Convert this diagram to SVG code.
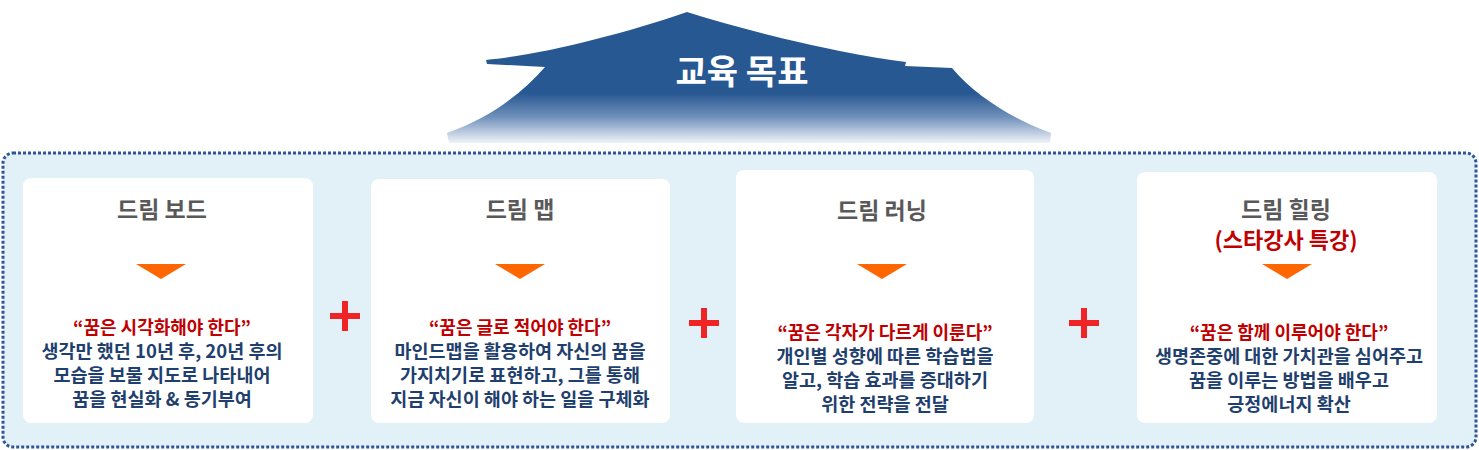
<svg xmlns="http://www.w3.org/2000/svg" width="1479" height="450" viewBox="0 0 1479 450">
<defs>
<linearGradient id="rg" x1="0" y1="0" x2="0" y2="1">
<stop offset="0" stop-color="#285892"/><stop offset="0.62" stop-color="#285892"/><stop offset="0.8" stop-color="#6f90bb"/><stop offset="1" stop-color="#f0f3f8"/>
</linearGradient>
<style>
text{font-family:"Noto Sans CJK KR","Noto Sans",sans-serif;font-weight:bold;text-anchor:middle}
.card{fill:#fff}
.t{font-size:23px;fill:#595959}
.q{font-size:18px;fill:#c00000}
.b{font-size:18.5px;fill:#1f3f6e}
.tri{fill:#ff6600}
</style>
</defs>
<rect width="1479" height="450" fill="#fff"/>
<g id="roof">
<path d="M687,12 C620,35 540,55 486,60 L487,64 L545,67 C520,95 490,118 447,133 L449,143 L1050,143 L1051,133 C1010,118 975,95 952,68 L905,66 L906,62 C850,55 760,35 687,12 Z" fill="url(#rg)"/>
<text x="742" y="84" style="font-size:34px;fill:#fff">교육 목표</text>
</g>
<rect x="3" y="153" width="1473" height="294" rx="10" fill="#e2f1f7" stroke="#2f5597" stroke-width="3" stroke-dasharray="3,2"/>
<g id="card1">
<rect class="card" x="23" y="178" width="290" height="245" rx="8"/>
<text class="t" x="162" y="218">드림 보드</text>
<path class="tri" d="M136,264 L186,264 L161,279 Z"/>
<text class="q" x="162" y="334">“꿈은 시각화해야 한다”</text>
<text class="b" x="162" y="358">생각만 했던 10년 후, 20년 후의</text>
<text class="b" x="162" y="382">모습을 보물 지도로 나타내어</text>
<text class="b" x="162" y="406">꿈을 현실화 &amp; 동기부여</text>
</g>
<g id="card2">
<rect class="card" x="371" y="179" width="299" height="244" rx="8"/>
<text class="t" x="520" y="218">드림 맵</text>
<path class="tri" d="M495,264 L545,264 L520,279 Z"/>
<text class="q" x="520" y="334">“꿈은 글로 적어야 한다”</text>
<text class="b" x="520" y="358">마인드맵을 활용하여 자신의 꿈을</text>
<text class="b" x="520" y="382">가지치기로 표현하고, 그를 통해</text>
<text class="b" x="520" y="406">지금 자신이 해야 하는 일을 구체화</text>
</g>
<g id="card3">
<rect class="card" x="736" y="170" width="298" height="253" rx="8"/>
<text class="t" x="882" y="219">드림 러닝</text>
<path class="tri" d="M857,264 L907,264 L882,279 Z"/>
<text class="q" x="885" y="339">“꿈은 각자가 다르게 이룬다”</text>
<text class="b" x="885" y="363">개인별 성향에 따른 학습법을</text>
<text class="b" x="885" y="387">알고, 학습 효과를 증대하기</text>
<text class="b" x="885" y="411">위한 전략을 전달</text>
</g>
<g id="card4">
<rect class="card" x="1137" y="172" width="300" height="251" rx="8"/>
<text class="t" x="1286" y="218">드림 힐링</text>
<text x="1286" y="248" style="font-size:22px;fill:#c00000">(스타강사 특강)</text>
<path class="tri" d="M1262,264 L1312,264 L1287,279 Z"/>
<text class="q" x="1289" y="339">“꿈은 함께 이루어야 한다”</text>
<text class="b" x="1289" y="363">생명존중에 대한 가치관을 심어주고</text>
<text class="b" x="1289" y="387">꿈을 이루는 방법을 배우고</text>
<text class="b" x="1289" y="411">긍정에너지 확산</text>
</g>
<g id="connectors">
<path d="M330,316 H360 M345,301 V331 M689,323 H719 M704,308 V338 M1069,323 H1099 M1084,308 V338" stroke="#f02424" stroke-width="6"/>
</g>
</svg>
